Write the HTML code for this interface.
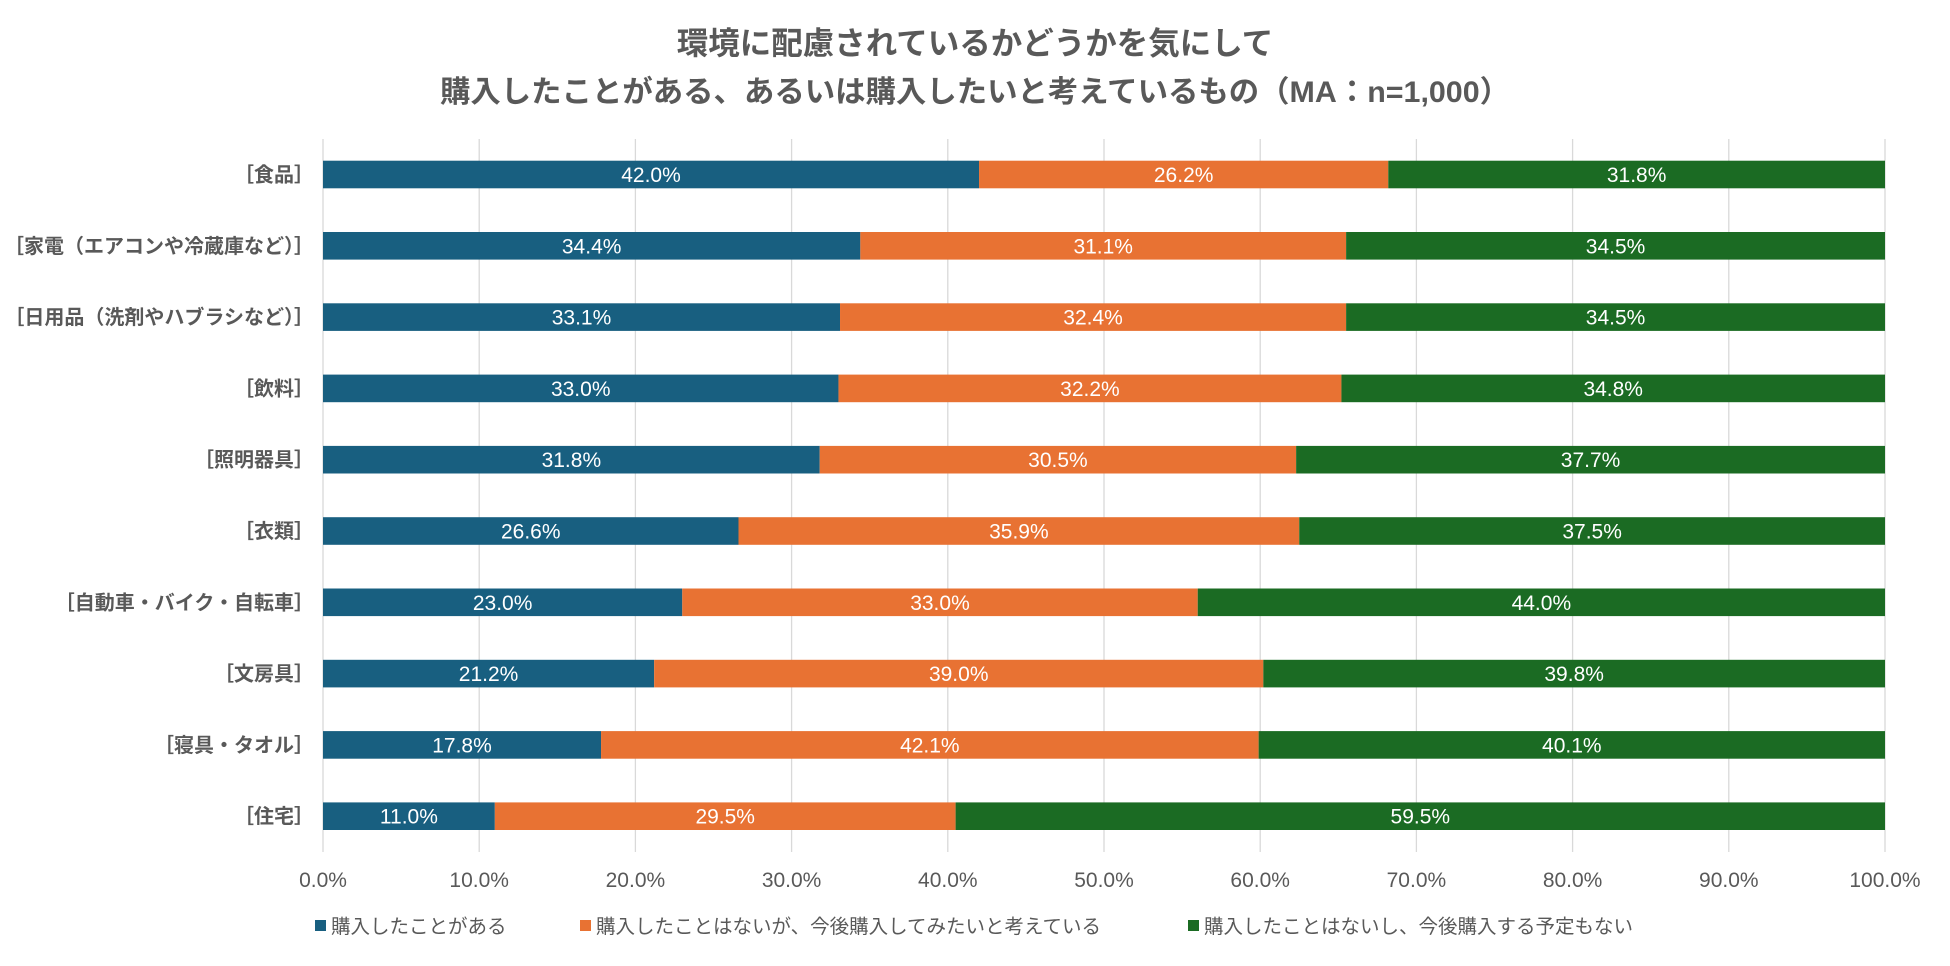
<!DOCTYPE html>
<html><head><meta charset="utf-8">
<style>
html,body{margin:0;padding:0;background:#fff;}
body{width:1950px;height:961px;overflow:hidden;font-family:"Liberation Sans","Noto Sans CJK JP",sans-serif;}
</style></head>
<body>
<svg id="chart" width="1950" height="961" xmlns="http://www.w3.org/2000/svg" font-family="'Liberation Sans','Noto Sans CJK JP',sans-serif">
<text x="975" y="54" text-anchor="middle" font-size="31.5" font-weight="bold" fill="#595959">環境に配慮されているかどうかを気にして</text>
<text x="975" y="102" text-anchor="middle" font-size="30" font-weight="bold" fill="#595959" textLength="1070" lengthAdjust="spacingAndGlyphs">購入したことがある、あるいは購入したいと考えているもの（MA：n=1,000）</text>
<g id="grid"></g><g id="bars"></g><g id="labels"></g><g id="ticks"></g><g id="legend"></g>
</svg>
<script>
const categories=["［食品］","［家電（エアコンや冷蔵庫など）］","［日用品（洗剤やハブラシなど）］","［飲料］","［照明器具］","［衣類］","［自動車・バイク・自転車］","［文房具］","［寝具・タオル］","［住宅］"];
const purchased=[42.0,34.4,33.1,33.0,31.8,26.6,23.0,21.2,17.8,11.0];
const wantToBuy=[26.2,31.1,32.4,32.2,30.5,35.9,33.0,39.0,42.1,29.5];
const noPlan=[31.8,34.5,34.5,34.8,37.7,37.5,44.0,39.8,40.1,59.5];
const tickValues=[0,10,20,30,40,50,60,70,80,90,100];
const seriesNames=["購入したことがある","購入したことはないが、今後購入してみたいと考えている","購入したことはないし、今後購入する予定もない"];
const colors=["#185f80","#e87233","#1b6b23"];
const NS="http://www.w3.org/2000/svg";
const x0=323,x1=1885,yTop=139,yBot=852,barTop0=160.7,pitch=71.3,barH=27.6;
const xs=v=>x0+(x1-x0)*v/100;
const yb=i=>barTop0+i*pitch;
function mk(tag,attrs,parent,text){const e=document.createElementNS(NS,tag);for(const k in attrs)e.setAttribute(k,attrs[k]);if(text!==undefined)e.textContent=text;parent.appendChild(e);return e;}
const grid=document.getElementById('grid'),bars=document.getElementById('bars'),labels=document.getElementById('labels'),ticks=document.getElementById('ticks'),legend=document.getElementById('legend');
tickValues.forEach(t=>{
  const l=mk('line',{x1:xs(t),x2:xs(t),y1:yTop,y2:yBot,stroke:'#d9d9d9','stroke-width':1.3},grid);
  
  
  const tx=mk('text',{x:xs(t),y:887,'text-anchor':'middle','font-size':21,fill:'#595959'},ticks,t.toFixed(1)+'%');
  
  
});
const series=[purchased,wantToBuy,noPlan];
categories.forEach((c,i)=>{
  const y=yb(i);
  const cl=mk('text',{x:314,y:y+barH/2+7,'text-anchor':'end','font-size':20,'font-weight':'bold',fill:'#595959'},labels,c);
  
  
  let acc=0;
  series.forEach((s,k)=>{
    const v=s[i];
    const r=mk('rect',{x:xs(acc),y:y,width:xs(acc+v)-xs(acc),height:barH,fill:colors[k]},bars);
    
    
    const t=mk('text',{x:(xs(acc)+xs(acc+v))/2,y:y+barH/2+7.5,'text-anchor':'middle','font-size':21,fill:'#ffffff'},bars,v.toFixed(1)+'%');
    
    
    acc+=v;
  });
});
const legX=[315,580,1188];
seriesNames.forEach((n,k)=>{
  const r=mk('rect',{x:legX[k],y:920,width:11,height:11,fill:colors[k]},legend);
  
  
  const t=mk('text',{x:legX[k]+16,y:933,'font-size':19.5,fill:'#595959'},legend,n);
  
  
});
</script>
</body></html>
